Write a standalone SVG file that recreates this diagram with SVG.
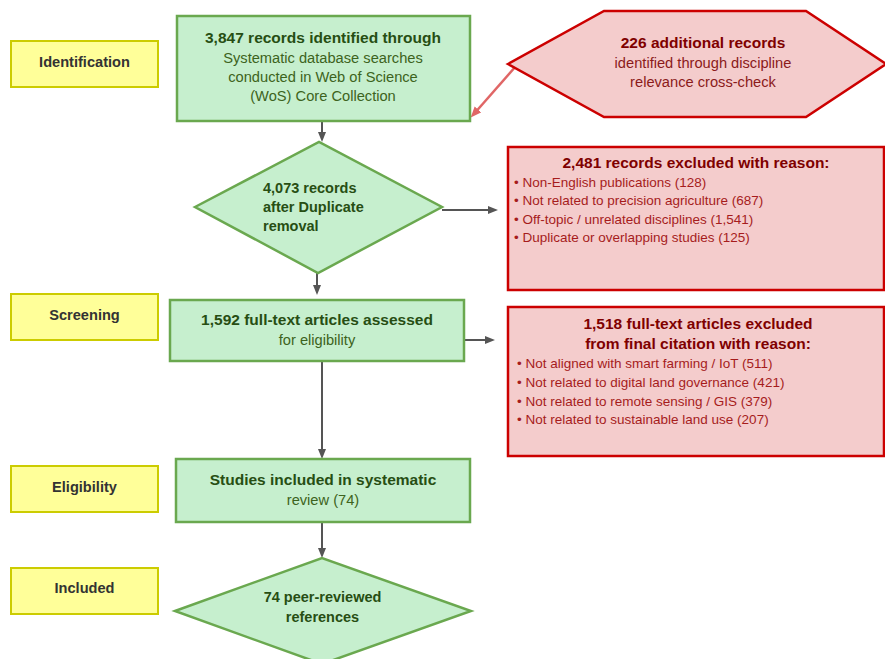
<svg xmlns="http://www.w3.org/2000/svg" width="885" height="659" viewBox="0 0 885 659">
<defs>
<style>
text{font-family:"Liberation Sans",Arial,sans-serif}
.g{fill:#c6efce;stroke:#6aa84f;stroke-width:2.5}
.r{fill:#f4cccc;stroke:#cc0000;stroke-width:2.5}
.y{fill:#ffff99;stroke:#cccc00;stroke-width:2}
.gb{font-size:15.5px;font-weight:bold;fill:#274e13;text-anchor:middle}
.gd{font-size:14.5px;font-weight:bold;fill:#274e13}
.gr{font-size:14.67px;fill:#3d6320;text-anchor:middle}
.rb{font-size:15.5px;font-weight:bold;fill:#7f0000;text-anchor:middle}
.rr{font-size:14.67px;fill:#8b1a1a;text-anchor:middle}
.rl{font-size:13.5px;fill:#a61c1c}
.yt{font-size:14.6px;font-weight:bold;fill:#333;text-anchor:middle}
.c{stroke:#555;stroke-width:2;fill:none}
.cr{stroke:#e06666;stroke-width:2.5;fill:none}
</style>
<marker id="a" viewBox="0 0 10 8" refX="2" refY="4" markerWidth="10" markerHeight="8" markerUnits="userSpaceOnUse" orient="auto"><path d="M0,0L10,4L0,8z" fill="#555"/></marker>
<marker id="ar" viewBox="0 0 10 8" refX="2" refY="4" markerWidth="11" markerHeight="9" markerUnits="userSpaceOnUse" orient="auto"><path d="M0,0L10,4L0,8z" fill="#e06666"/></marker>
</defs>
<rect width="885" height="659" fill="#fff"/>

<g id="stage-identification"><rect class="y" x="11" y="41" width="147" height="46"/><text class="yt" x="84.5" y="67">Identification</text></g>
<g id="stage-screening"><rect class="y" x="11" y="294" width="147" height="46"/><text class="yt" x="84.5" y="320">Screening</text></g>
<g id="stage-eligibility"><rect class="y" x="11" y="466" width="147" height="46"/><text class="yt" x="84.5" y="492">Eligibility</text></g>
<g id="stage-included"><rect class="y" x="11" y="568" width="147" height="46"/><text class="yt" x="84.5" y="593">Included</text></g>

<g id="connectors">
<line class="c" x1="322" y1="121" x2="322" y2="134" marker-end="url(#a)"/>
<line class="cr" x1="516" y1="66" x2="476.5" y2="111" marker-end="url(#ar)"/>
<line class="c" x1="442" y1="210" x2="490" y2="210" marker-end="url(#a)"/>
<line class="c" x1="317" y1="273" x2="317" y2="287" marker-end="url(#a)"/>
<line class="c" x1="464" y1="340" x2="487" y2="340" marker-end="url(#a)"/>
<line class="c" x1="322" y1="361" x2="322" y2="451" marker-end="url(#a)"/>
<line class="c" x1="322" y1="522" x2="322" y2="550" marker-end="url(#a)"/>
</g>

<g id="records-identified">
<rect class="g" x="177" y="16" width="293" height="105"/>
<text class="gb" x="323" y="42.7">3,847 records identified through</text>
<text class="gr" x="323" y="63.1">Systematic database searches</text>
<text class="gr" x="323" y="81.8">conducted in Web of Science</text>
<text class="gr" x="323" y="101.1">(WoS) Core Collection</text>
</g>

<g id="additional-records">
<polygon class="r" points="508,64 604,11 806,11 886,64 806,117 604,117"/>
<text class="rb" x="703" y="47.7">226 additional records</text>
<text class="rr" x="703" y="68.4">identified through discipline</text>
<text class="rr" x="703" y="87.4">relevance cross-check</text>
</g>

<g id="after-duplicates">
<polygon class="g" points="195,207 319,142 442,207 318,273"/>
<text class="gd" x="263" y="192.8">4,073 records</text>
<text class="gd" x="263" y="211.8">after Duplicate</text>
<text class="gd" x="263" y="230.8">removal</text>
</g>

<g id="records-excluded">
<rect class="r" x="508" y="147" width="376" height="143"/>
<text class="rb" x="696" y="168.4">2,481 records excluded with reason:</text>
<text class="rl" x="514" y="186.7">• Non-English publications (128)</text>
<text class="rl" x="514" y="205.2">• Not related to precision agriculture (687)</text>
<text class="rl" x="514" y="223.7">• Off-topic / unrelated disciplines (1,541)</text>
<text class="rl" x="514" y="242.2">• Duplicate or overlapping studies (125)</text>
</g>

<g id="full-text-assessed">
<rect class="g" x="170" y="300" width="294" height="61"/>
<text class="gb" x="317" y="325.4">1,592 full-text articles assessed</text>
<text class="gr" x="317" y="345.1">for eligibility</text>
</g>

<g id="full-text-excluded">
<rect class="r" x="508" y="307" width="376" height="149"/>
<text class="rb" x="698" y="329.4">1,518 full-text articles excluded</text>
<text class="rb" x="698" y="349.4">from final citation with reason:</text>
<text class="rl" x="517" y="368.2">• Not aligned with smart farming / IoT (511)</text>
<text class="rl" x="517" y="387.2">• Not related to digital land governance (421)</text>
<text class="rl" x="517" y="405.7">• Not related to remote sensing / GIS (379)</text>
<text class="rl" x="517" y="424.2">• Not related to sustainable land use (207)</text>
</g>

<g id="studies-included">
<rect class="g" x="176" y="459" width="294" height="63"/>
<text class="gb" x="323" y="484.9">Studies included in systematic</text>
<text class="gr" x="323" y="505.1">review (74)</text>
</g>

<g id="peer-reviewed">
<polygon class="g" points="175,611 322,558 471,611 322,664"/>
<text class="gd" x="322.5" y="601.8" text-anchor="middle">74 peer-reviewed</text>
<text class="gd" x="322.5" y="622.4" text-anchor="middle">references</text>
</g>
</svg>
